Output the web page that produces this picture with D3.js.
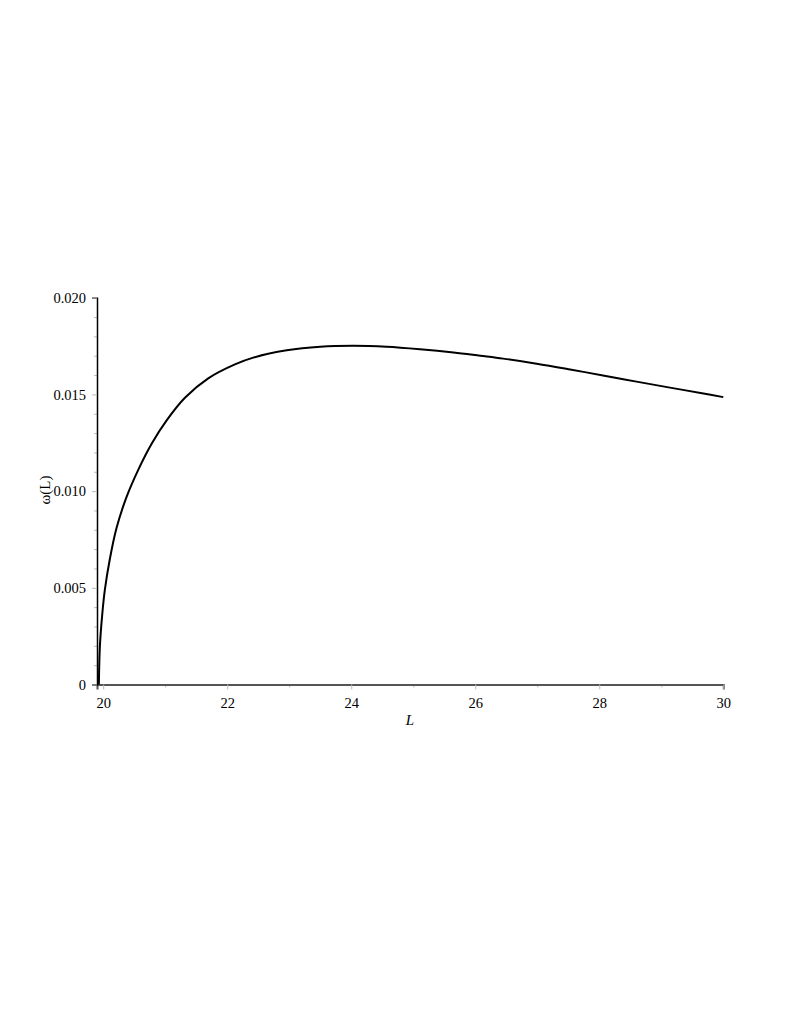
<!DOCTYPE html>
<html>
<head>
<meta charset="utf-8">
<script src="https://cdn.jsdelivr.net/npm/d3@7"></script>
<style>
  body { margin: 0; background: #fff; }
  svg { display: block; }
  text { font-family: "Liberation Serif", "DejaVu Serif", serif; fill: #000; }
</style>
</head>
<body>
<svg id="chart" width="785" height="1015"></svg>
<script>
// values
var L = [19.93, 19.947, 19.984, 20.027, 20.108, 20.216, 20.377, 20.565, 20.781, 21.023,
         21.318, 21.694, 22.124, 22.42, 22.96, 23.50, 24.03, 24.57, 25.11, 25.65,
         26.08, 26.45, 26.99, 27.53, 28.06, 28.60, 29.14, 29.68, 30.0];
var omega = [0, 0.0020, 0.0036, 0.0049, 0.0065, 0.0081, 0.0097, 0.0111, 0.01245, 0.01366,
             0.01483, 0.01583, 0.01655, 0.01690, 0.01728, 0.01747, 0.01752, 0.01747, 0.01734, 0.01717,
             0.01700, 0.01685, 0.01659, 0.01629, 0.01598, 0.01566, 0.01535, 0.01505, 0.01486];
var xTicks = [20, 22, 24, 26, 28, 30];
var xMinor = [21, 23, 25, 27, 29];
var yTicks = [0, 0.005, 0.010, 0.015, 0.020];
var yTickLabels = ["0", "0.005", "0.010", "0.015", "0.020"];
var yMinor = d3.range(1, 20).filter(function(i) { return i % 5 != 0; }).map(function(i) { return i * 0.001; });

var data = L.map(function(d, i) { return {L: d, w: omega[i]}; });

var x = d3.scaleLinear().domain([19.9, 30]).range([97, 723.3]);
var y = d3.scaleLinear().domain([0, 0.020]).range([684.5, 297.7]);

var svg = d3.select("#chart");

// minor ticks
svg.append("g")
  .attr("transform", "translate(0," + y(0) + ")")
  .call(d3.axisBottom(x).tickValues(xMinor).tickSize(3).tickFormat(""))
  .call(function(g) { g.select(".domain").remove(); g.selectAll("line").attr("stroke", "#bbb"); });

svg.append("g")
  .attr("transform", "translate(" + x(19.9) + ",0)")
  .call(d3.axisLeft(y).tickValues(yMinor).tickSize(3).tickFormat(""))
  .call(function(g) { g.select(".domain").remove(); g.selectAll("line").attr("stroke", "#bbb"); });

// x axis
var xAxis = svg.append("g")
  .attr("transform", "translate(0," + y(0) + ")")
  .call(d3.axisBottom(x).tickValues(xTicks).tickSize(5).tickPadding(8).tickFormat(d3.format("d")));
xAxis.select(".domain").attr("stroke", "#555").attr("stroke-width", 2);
xAxis.selectAll(".tick line").attr("stroke", "#bbb");
xAxis.selectAll("text").attr("font-size", 14.5).attr("font-family", "Liberation Serif");

// y axis
var yAxis = svg.append("g")
  .attr("transform", "translate(" + x(19.9) + ",0)")
  .call(d3.axisLeft(y).tickValues(yTicks).tickSize(5).tickPadding(6)
    .tickFormat(function(d, i) { return yTickLabels[i]; }));
yAxis.select(".domain").attr("stroke", "#000").attr("stroke-width", 1.5);
yAxis.selectAll(".tick line").attr("stroke", "#bbb");
yAxis.selectAll("text").attr("font-size", 14.5).attr("font-family", "Liberation Serif");

// curve
var line = d3.line()
  .x(function(d) { return x(d.L); })
  .y(function(d) { return y(d.w); })
  .curve(d3.curveCatmullRom.alpha(0.5));

svg.append("path")
  .datum(data)
  .attr("fill", "none")
  .attr("stroke", "#000")
  .attr("stroke-width", 2)
  .attr("d", line);

// axis labels
svg.append("text")
  .attr("x", 410)
  .attr("y", 725)
  .attr("text-anchor", "middle")
  .attr("font-size", 15)
  .attr("font-style", "italic")
  .text("L");

svg.append("text")
  .attr("transform", "translate(50,490) rotate(-90)")
  .attr("text-anchor", "middle")
  .attr("font-size", 15)
  .text("ω(L)");
</script>
</body>
</html>
